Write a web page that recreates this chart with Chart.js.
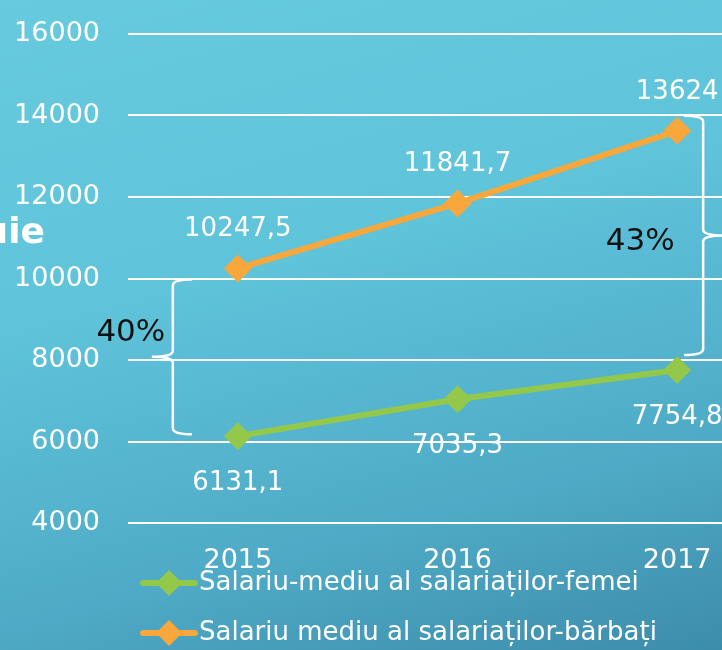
<!DOCTYPE html>
<html>
<head>
<meta charset="utf-8">
<script src="https://cdn.jsdelivr.net/npm/chart.js@4"></script>
<style>
  html, body { margin: 0; padding: 0; }
  body {
    width: 722px; height: 650px; overflow: hidden; position: relative;
    background: linear-gradient(165deg, #67cade 0%, #5fc3da 40%, #4eaac6 75%, #3d8cab 100%);
  }
  #wrap { position: absolute; left: 0; top: 0; width: 790px; height: 683px; }
</style>
</head>
<body>
<div id="wrap"><canvas id="grafico" width="790" height="683"></canvas></div>
<script>
// date
const ani = ['2015', '2016', '2017'];
const salariuFemei = [6131.1, 7035.3, 7754.8];
const salariuBarbati = [10247.5, 11841.7, 13624];
const numeSerii = ['Salariu-mediu al salariaților-femei', 'Salariu mediu al salariaților-bărbați'];
const diferente = ['40%', '43%'];
const culori = ['#93c84a', '#f7a73b'];

// iconite pentru legenda (linie + romb)
function iconita(cul) {
    const c = document.createElement('canvas');
    c.width = 60; c.height = 30;
    const g = c.getContext('2d');
    g.strokeStyle = cul; g.lineWidth = 6; g.lineCap = 'round';
    g.beginPath(); g.moveTo(4, 15); g.lineTo(56, 15); g.stroke();
    g.fillStyle = cul;
    g.beginPath(); g.moveTo(30, 2); g.lineTo(43, 15); g.lineTo(30, 28); g.lineTo(17, 15); g.closePath(); g.fill();
    return c;
}
const iconite = culori.map(iconita);

// etichete cu valori
const pluginEtichete = {
    id: 'etichete',
    afterDatasetsDraw(chart) {
        const ctx = chart.ctx;
        ctx.save();
        ctx.font = '26px "DejaVu Sans"';
        ctx.fillStyle = '#ffffff';
        ctx.textAlign = 'center';
        ctx.textBaseline = 'alphabetic';
        chart.data.datasets.forEach((ds, i) => {
            chart.getDatasetMeta(i).data.forEach((p, j) => {
                const txt = String(ds.data[j]).replace('.', ',');
                const y = i === 0 ? p.y + 54 : p.y - 32;
                ctx.fillText(txt, p.x, y);
            });
        });
        ctx.restore();
    }
};

// acolade + procente
function acolada(ctx, x, yTop, yBot, dir) {
    const yMid = (yTop + yBot) / 2, r = 6;
    ctx.beginPath();
    ctx.moveTo(x - dir * 19, yTop);
    ctx.quadraticCurveTo(x, yTop, x, yTop + r);
    ctx.lineTo(x, yMid - r);
    ctx.quadraticCurveTo(x, yMid, x + dir * 21, yMid);
    ctx.quadraticCurveTo(x, yMid, x, yMid + r);
    ctx.lineTo(x, yBot - r);
    ctx.quadraticCurveTo(x, yBot, x - dir * 19, yBot);
    ctx.stroke();
}
const pluginAcolade = {
    id: 'acolade',
    afterDatasetsDraw(chart) {
        const ctx = chart.ctx, xs = chart.scales.x, ys = chart.scales.y;
        ctx.save();
        ctx.strokeStyle = '#ffffff'; ctx.lineWidth = 2.5;
        // stanga: 2015
        const xl = xs.getPixelForValue(0) - 65;
        const t1 = ys.getPixelForValue(salariuBarbati[0]) + 11;
        const b1 = ys.getPixelForValue(salariuFemei[0]) - 2;
        acolada(ctx, xl, t1, b1, -1);
        // dreapta: 2017
        const xr = xs.getPixelForValue(2) + 26;
        const t2 = ys.getPixelForValue(salariuBarbati[2]) - 15;
        const b2 = ys.getPixelForValue(salariuFemei[2]) - 15;
        acolada(ctx, xr, t2, b2, 1);

        ctx.fillStyle = '#111111';
        ctx.font = '31px "DejaVu Sans"';
        ctx.textAlign = 'center';
        ctx.textBaseline = 'middle';
        ctx.fillText(diferente[0], xl - 42, (t1 + b1) / 2 - 24);
        ctx.fillText(diferente[1], xr - 63, (t2 + b2) / 2 + 7);

        // fragment titlu taiat
        ctx.fillStyle = '#ffffff';
        ctx.font = 'bold 36px "DejaVu Sans"';
        ctx.textAlign = 'right';
        ctx.textBaseline = 'alphabetic';
        ctx.fillText('uie', 45, 243);
        ctx.restore();
    }
};

// legenda urca peste zona etichetelor axei X (ca in slide)
const pluginLegenda = {
    id: 'mutaLegenda',
    afterLayout(chart) {
        const lg = chart.legend;
        if (!lg) return;
        lg.top -= 27; lg.bottom -= 27;
    }
};

new Chart(document.getElementById('grafico'), {
    type: 'line',
    data: {
        labels: ani,
        datasets: [
            { label: numeSerii[0], data: salariuFemei, borderColor: culori[0], backgroundColor: culori[0],
              borderWidth: 6, pointStyle: 'rectRot', pointRadius: 14, pointBorderWidth: 0, tension: 0 },
            { label: numeSerii[1], data: salariuBarbati, borderColor: culori[1], backgroundColor: culori[1],
              borderWidth: 6, pointStyle: 'rectRot', pointRadius: 14, pointBorderWidth: 0, tension: 0 }
        ]
    },
    options: {
        responsive: false,
        animation: false,
        layout: { autoPadding: false, padding: { top: 34, left: 0, right: 3, bottom: 0 } },
        scales: {
            x: {
                offset: true,
                grid: { display: false, drawTicks: false },
                border: { display: false },
                ticks: { color: '#ffffff', font: { family: 'DejaVu Sans', size: 27 }, padding: 22 },
                afterFit(axis) {
                    axis.height = 50;
                    axis.paddingLeft = 0; axis.paddingRight = 0;
                }
            },
            y: {
                min: 4000, max: 16000,
                grid: { color: '#ffffff', lineWidth: 2, drawTicks: false },
                border: { display: false },
                ticks: { stepSize: 2000, color: '#ffffff', font: { family: 'DejaVu Sans', size: 27 }, padding: 28,
                         callback: v => String(v) },
                afterFit(axis) {
                    axis.width = 128;
                    axis.paddingTop = 0; axis.paddingBottom = 0;
                }
            }
        },
        plugins: {
            tooltip: { enabled: false },
            legend: {
                position: 'bottom',
                align: 'start',
                fullSize: false,
                labels: {
                    usePointStyle: true,
                    pointStyleWidth: 34,
                    padding: 24,
                    color: '#ffffff',
                    font: { family: 'DejaVu Sans', size: 26 },
                    generateLabels: chart => chart.data.datasets.map((ds, i) => ({
                        text: ds.label,
                        pointStyle: iconite[i],
                        fillStyle: ds.borderColor,
                        strokeStyle: 'transparent',
                        lineWidth: 0,
                        fontColor: '#ffffff',
                        hidden: false,
                        datasetIndex: i
                    }))
                }
            }
        }
    },
    plugins: [pluginEtichete, pluginAcolade, pluginLegenda]
});
</script>
</body>
</html>
